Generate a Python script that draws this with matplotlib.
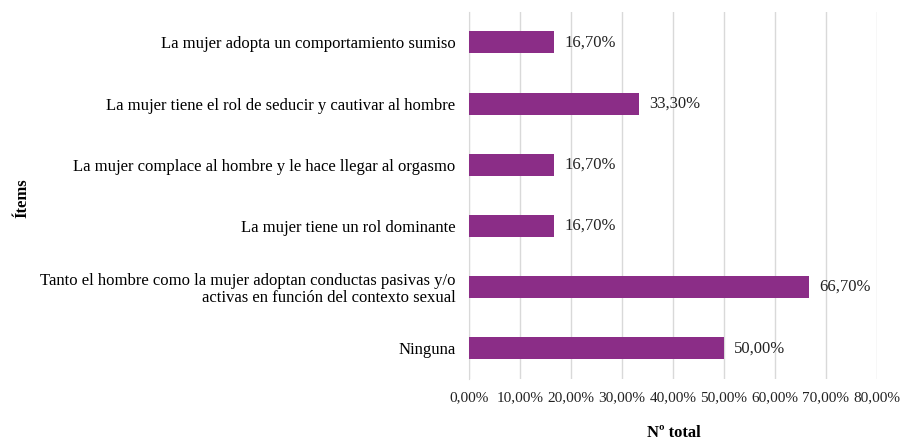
import matplotlib.pyplot as plt

plt.rcParams['font.family'] = ['Liberation Serif', 'DejaVu Serif']

items = [
    'La mujer adopta un comportamiento sumiso',
    'La mujer tiene el rol de seducir y cautivar al hombre',
    'La mujer complace al hombre y le hace llegar al orgasmo',
    'La mujer tiene un rol dominante',
    'Tanto el hombre como la mujer adoptan conductas pasivas y/o\nactivas en función del contexto sexual',
    'Ninguna',
]
values = [16.7, 33.3, 16.7, 16.7, 66.7, 50.0]
ticks = [0, 10, 20, 30, 40, 50, 60, 70, 80]


def pct(v):
    return f'{v:.2f}'.replace('.', ',') + '%'


fig = plt.figure(figsize=(9.04, 4.41), dpi=100)
ax = fig.add_axes([0.519, 0.141, 0.451, 0.832])

pos = list(range(len(items)))[::-1]
ax.barh(pos, values, height=0.36, color='#8B2D87', zorder=3)
for p, v in zip(pos, values):
    ax.text(v + 2.0, p, pct(v), va='center', ha='left', fontsize=12, color='#222222')

ax.set_xlim(0, 80)
ax.set_ylim(-0.5, len(items) - 0.5)
ax.set_xticks(ticks)
ax.set_xticklabels([pct(t) for t in ticks], fontsize=11, color='#222222')
ax.set_yticks(pos)
ax.set_yticklabels(items, fontsize=12, color='#000000', linespacing=1.1)
ax.grid(axis='x', color='#d9d9d9', linewidth=1, zorder=0)
for s in ['top', 'right', 'bottom']:
    ax.spines[s].set_visible(False)
ax.spines['left'].set_color('#d9d9d9')
ax.tick_params(axis='y', length=0, pad=10)
ax.tick_params(axis='x', length=0, pad=9)

fig.text(0.745, 0.008, 'Nº total', ha='center', fontsize=12, fontweight='bold')
fig.text(0.016, 0.55, 'Ítems', rotation=90, va='center', fontsize=12, fontweight='bold')

fig.savefig('out.png', dpi=100)
